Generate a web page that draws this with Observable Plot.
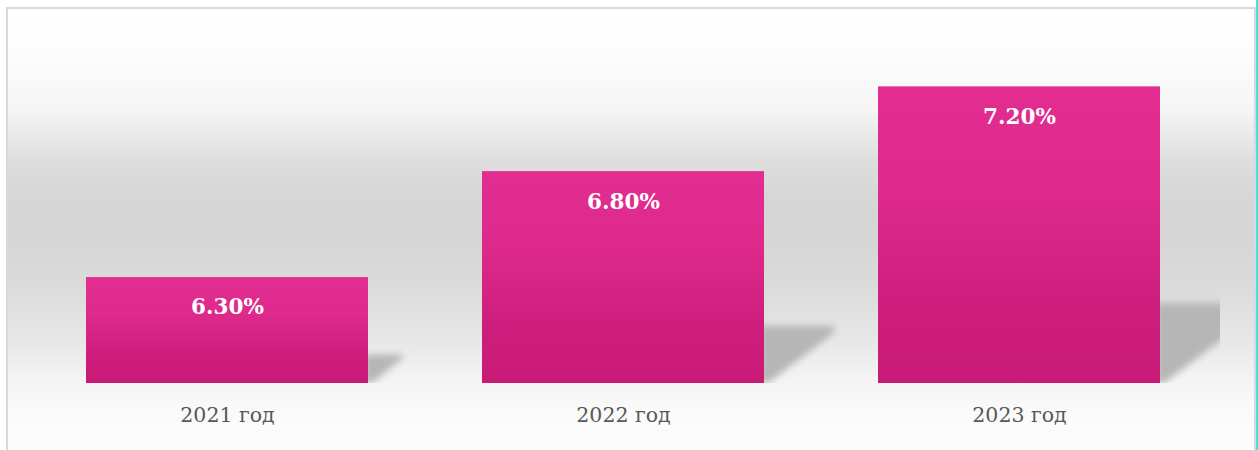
<!DOCTYPE html>
<html>
<head>
<meta charset="utf-8">
<script src="https://cdn.jsdelivr.net/npm/d3@7"></script>
<script src="https://cdn.jsdelivr.net/npm/@observablehq/plot@0.6"></script>
<style>
  html, body { margin: 0; padding: 0; background: #fff; overflow: hidden; }
  #wrap { position: relative; width: 1258px; height: 450px; }
  #frame {
    position: absolute; left: 6px; top: 7px; width: 1250px; height: 460px;
    box-sizing: border-box; border: 2px solid #d9d9d9;
    background: linear-gradient(to bottom, #ffffff 0px, #fefefe 34px, #f5f5f5 101px, #dedede 151px, #d6d6d6 190px, #d6d6d6 234px, #dcdcdc 284px, #e8e8e8 334px, #f3f3f3 368px, #fafafa 401px, #fdfdfd 443px);
  }
  #edge { position: absolute; left: 1256px; top: 0; width: 2px; height: 450px; background: #3fe6e6; }
  #chart { position: absolute; left: 0; top: 0; }
</style>
</head>
<body>
<div id="wrap">
  <div id="frame"></div>
  <div id="edge"></div>
  <div id="chart"></div>
</div>
<script>
const years = ["2021 год", "2022 год", "2023 год"];
const values = [6.3, 6.8, 7.2];
const valueLabels = ["6.30%", "6.80%", "7.20%"];
const yDomain = [5.8, 7.4];

const data = years.map((year, i) => ({year, value: values[i], label: valueLabels[i]}));
const NS = "http://www.w3.org/2000/svg";

function defsMark() {
  const g = document.createElementNS(NS, "g");
  g.innerHTML = `<defs>
    <linearGradient id="barGrad" x1="0" y1="0" x2="0" y2="1">
      <stop offset="0" stop-color="#e32d91"/>
      <stop offset="0.35" stop-color="#dd2a8b"/>
      <stop offset="0.7" stop-color="#cf1f7e"/>
      <stop offset="1" stop-color="#c81a77"/>
    </linearGradient>
    <filter id="shadowBlur" x="-30%" y="-30%" width="160%" height="160%">
      <feGaussianBlur stdDeviation="3.5"/>
    </filter>
  </defs>`;
  return g;
}

const shadows = Plot.barY(data, {
  x: "year", y1: yDomain[0], y2: "value", fill: "#b4b4b4", clip: true,
  render(index, scales, vals, dims, ctx, next) {
    const g = next(index, scales, vals, dims, ctx);
    const rects = Array.from(g.querySelectorAll("rect"));
    for (const r of rects) {
      const x = +r.getAttribute("x"), y = +r.getAttribute("y");
      const w = +r.getAttribute("width"), h = +r.getAttribute("height");
      const x1 = x + w, yb = y + h;
      const sh = 0.27 * h, sw = 0.33 * h;
      const p = document.createElementNS(NS, "path");
      p.setAttribute("d", `M${x1 - 4},${yb - sh}L${x1 + sw},${yb - sh}L${x1 + sw},${yb - sh + 0.12 * sh}L${x1 + 4},${yb}L${x1 - 4},${yb}Z`);
      p.setAttribute("fill", "#b6b6b6");
      p.setAttribute("filter", "url(#shadowBlur)");
      r.replaceWith(p);
    }
    return g;
  }
});

const chart = Plot.plot({
  width: 1258,
  height: 450,
  marginLeft: 25,
  marginRight: 38,
  marginTop: 44,
  marginBottom: 67,
  style: {background: "transparent", fontFamily: "'DejaVu Serif', serif", fontSize: "20.5px", color: "#595959"},
  x: {domain: years, paddingInner: 0.289, paddingOuter: 0.151, label: null, tickSize: 0, tickPadding: 24},
  y: {domain: yDomain, axis: null},
  marks: [
    defsMark,
    shadows,
    Plot.barY(data, {x: "year", y1: yDomain[0], y2: "value", fill: "url(#barGrad)"}),
    Plot.text(data, {x: "year", y: "value", text: "label", dy: 30, fill: "white", fontWeight: "bold", fontSize: 21.5})
  ]
});
document.getElementById("chart").appendChild(chart);
</script>
</body>
</html>
